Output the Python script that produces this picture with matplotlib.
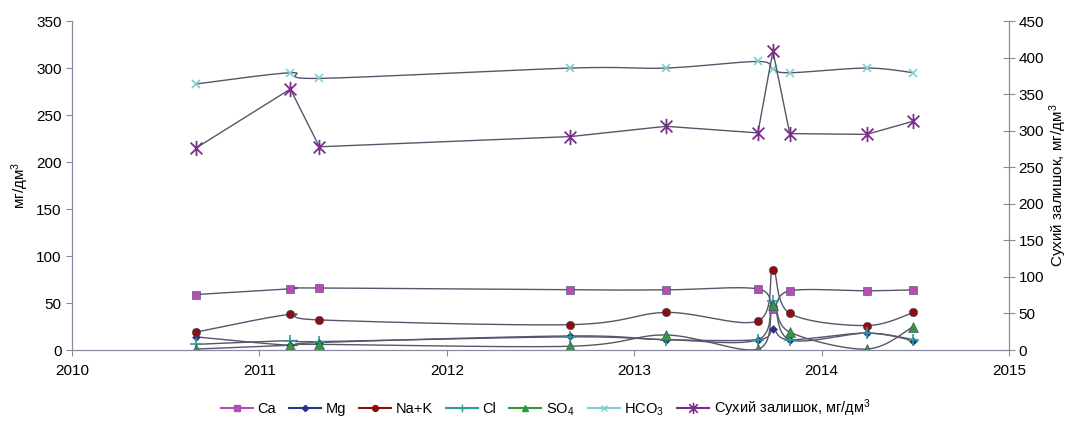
import numpy as np
import matplotlib
matplotlib.use("Agg")
import matplotlib.pyplot as plt
from matplotlib.path import Path
from matplotlib.lines import Line2D

plt.rcParams['font.family'] = ['Liberation Sans', 'DejaVu Sans']
plt.rcParams['mathtext.fontset'] = 'custom'
plt.rcParams['mathtext.rm'] = 'Liberation Sans'
plt.rcParams['mathtext.it'] = 'Liberation Sans'

# sampling dates (decimal years)
dates = [2010.66, 2011.165, 2011.32, 2012.66, 2013.17, 2013.66, 2013.74, 2013.83, 2014.24, 2014.49]

# concentrations, mg/dm3 (left axis)
ca = [59, 65, 66, 64, 64, 65, 44, 63, 63, 64]
mg = [14, 5, 8, 15, 11, 11, 22, 11, 18, 10]
nak = [19, 38, 32, 27, 40, 31, 85, 39, 26, 40]
cl = [6, 10, 9, 14, 11, 11, 52, 11, 18, 11]
so4 = [1, 5, 6, 4, 16, 1, 48, 19, 1, 25]
hco3 = [283, 295, 289, 300, 300, 307, 299, 295, 300, 295]
# dry residue, mg/dm3 (right axis)
dry = [276, 357, 278, 292, 306, 297, 409, 296, 295, 313]

line_col = '#55566a'
axis_col = '#8a8a9e'

# pixel scales used only for the smoothing of the lines
px_year = 187.4
px_left = 0.94


def smooth(x, y, sy, n=40):
    # Excel-like smoothed line (Bezier through the points)
    px = (np.asarray(x) - 2010) * px_year
    py = np.asarray(y, dtype=float) * sy
    P = np.column_stack([px, py])
    out = []
    for i in range(len(P) - 1):
        p0 = P[i - 1] if i > 0 else P[i]
        p1, p2 = P[i], P[i + 1]
        p3 = P[i + 2] if i + 2 < len(P) else P[i + 1]
        b1 = p1 + (p2 - p0) / 6
        b2 = p2 - (p3 - p1) / 6
        t = np.linspace(0, 1, n)[:, None]
        seg = (1 - t) ** 3 * p1 + 3 * (1 - t) ** 2 * t * b1 + 3 * (1 - t) * t ** 2 * b2 + t ** 3 * p2
        out.append(seg)
    out = np.vstack(out)
    return out[:, 0] / px_year + 2010, out[:, 1] / sy


star = Path([(-1, -1), (1, 1), (-1, 1), (1, -1), (0, -1.3), (0, 1.3)],
            [Path.MOVETO, Path.LINETO, Path.MOVETO, Path.LINETO, Path.MOVETO, Path.LINETO])

series = [
    ('Ca', ca, 's', '#b44db4', 5.5),
    ('Mg', mg, 'D', '#2b2f8f', 4.5),
    ('Na+K', nak, 'o', '#8e0d0d', 6),
    ('Cl', cl, '+', '#2a9d9d', 8),
    ('SO$_4$', so4, '^', '#2e9a3c', 6.5),
    ('HCO$_3$', hco3, 'x', '#7fcfd0', 6),
]

fig = plt.figure(figsize=(10.7, 4.21), dpi=100)
ax = fig.add_axes([0.0673, 0.1686, 0.8757, 0.7814])
ax2 = ax.twinx()

handles = []
for name, vals, mk, col, ms in series:
    sx, sy = smooth(dates, vals, px_left)
    ax.plot(sx, sy, color=line_col, lw=1, zorder=2)
    ax.plot(dates, vals, ls='none', marker=mk, ms=ms, color=col,
            markeredgecolor=col if mk in '+x' else '#444466', mew=1.2 if mk in '+x' else 0.4, zorder=3)
    handles.append(Line2D([], [], color=col, lw=1.5, marker=mk, ms=ms * 0.7,
                          markeredgecolor=col, label=name))

ax2.plot(dates, dry, color=line_col, lw=1, zorder=2)
ax2.plot(dates, dry, ls='none', marker=star, ms=11, color='#7b2d8b', mew=1.3, zorder=3)
handles.append(Line2D([], [], color='#7b2d8b', lw=1.5, marker=star, ms=8, mew=1.2,
                      label='Сухий залишок, мг/дм$^3$'))

ax.set_xlim(2010, 2015)
ax.set_ylim(0, 350)
ax2.set_ylim(0, 450)
ax.set_xticks(range(2010, 2016))
ax.set_yticks(range(0, 351, 50))
ax2.set_yticks(range(0, 451, 50))

for a in (ax, ax2):
    for s in a.spines.values():
        s.set_color(axis_col)
    a.spines['top'].set_visible(False)
ax.tick_params(axis='both', colors=axis_col, labelcolor='black', labelsize=11, length=4)
ax.tick_params(axis='x', pad=6)
ax2.tick_params(axis='y', colors=axis_col, labelcolor='black', labelsize=11,
                length=8, direction='inout', pad=3)

ax.set_ylabel('мг/дм$^3$', fontsize=11, labelpad=4)
ax2.set_ylabel('Сухий залишок, мг/дм$^3$', fontsize=11, labelpad=2)

fig.legend(handles=handles, loc='center', bbox_to_anchor=(0.51, 0.03), ncol=7,
           frameon=False, fontsize=10.5, handlelength=2.2, handletextpad=0.3, columnspacing=0.9)

fig.savefig('out.png', dpi=100)
